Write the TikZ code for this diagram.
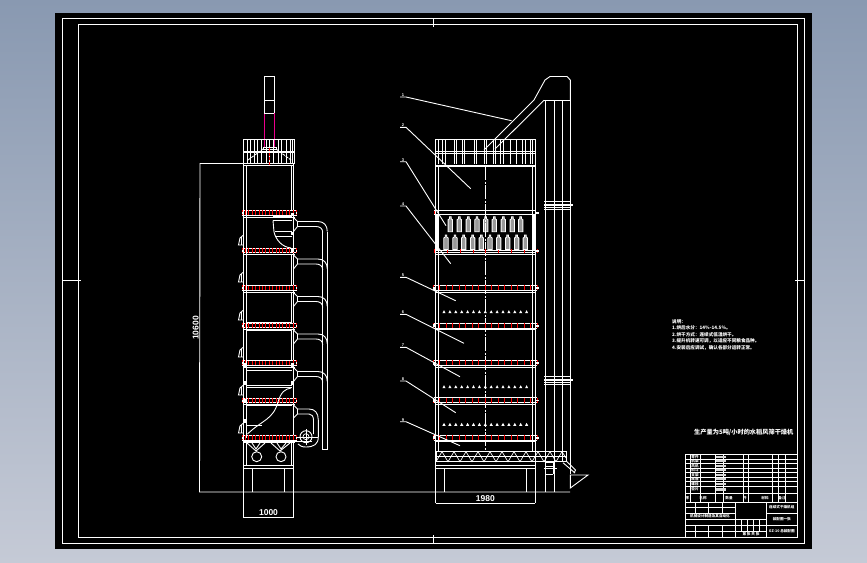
\documentclass[tikz,border=0pt]{standalone}
\usepackage{fontspec}
\setmainfont{Liberation Sans}
\newfontfamily\cjk{Noto Sans CJK SC}
\definecolor{skytop}{RGB}{137,153,177}
\definecolor{skybot}{RGB}{197,202,214}
\tikzset{
  ln/.style={draw=white,line width=0.9pt},
  thin ln/.style={draw=white,line width=0.7pt},
  redtick/.style={draw=red,line width=1pt},
  magline/.style={draw=magenta,line width=1.1pt},
  dim/.style={text=white,font=\fontsize{8.5}{9}\selectfont\bfseries,inner sep=0pt},
  tag/.style={text=white,font=\fontsize{4}{4}\selectfont\bfseries,inner sep=0pt},
  cn/.style={text=white,font=\cjk\fontsize{4.6}{5}\selectfont\bfseries,inner sep=0pt,anchor=west},
  tb/.style={text=white,font=\cjk\fontsize{3.6}{4}\selectfont\bfseries,inner sep=0pt},
  dropshape/.style={draw=white,line width=0.8pt}
}
\newcommand{\flange}[3]{%
  \draw[ln] (#1,#3-2.4) -- (#2,#3-2.4);
  \draw[ln] (#1,#3+2.4) -- (#2,#3+2.4);
  \draw[ln] (#1+2,#3+4) -- (#2-2,#3+4);
  \pgfmathsetmacro{\fstep}{(#2-#1)/16}
  \foreach \k in {0,...,16}{
    \draw[redtick] ({#1+\k*\fstep},#3-2.6) -- ({#1+\k*\fstep},#3+2.2);
  }
}
\newcommand{\duct}[1]{%
  \draw[ln] (293.5,#1-5) -- (297.5,#1-1) -- (297.5,#1+4) -- (293.5,#1+9);
  \draw[ln] (297.5,#1-1) -- (318,#1-1) .. controls (324,#1-1) and (327.3,#1+3) .. (327.3,#1+9);
  \draw[ln] (297.5,#1+4) -- (316,#1+4) .. controls (320,#1+4) and (322.7,#1+6) .. (322.7,#1+10);
}
\newcommand{\lugmark}[1]{%
  \draw[ln] (243.5,#1) -- (240,#1+3) -- (238.5,#1+10) -- (243.5,#1+10);
  \draw[ln] (241,#1+2) -- (241,#1+10);
}
\newcommand{\bottle}[3]{%
  \draw[dropshape,fill=white,fill opacity=.6] (#1-2.2,#3) -- (#1-2.2,#2+3) -- (#1-.8,#2+2) -- (#1-.8,#2) -- (#1+.8,#2) -- (#1+.8,#2+2) -- (#1+2.2,#2+3) -- (#1+2.2,#3) -- cycle;
}
\begin{document}
\begin{tikzpicture}[x=1pt,y=-1pt]
\useasboundingbox (0,0) rectangle (867,562);
\shade[top color=skytop,bottom color=skybot] (0,0) rectangle (867,562);
\fill[black] (55,13) rectangle (812,549);
\draw[ln] (62.5,18.5) rectangle (804.5,543.5);
\draw[ln] (78.5,24.5) rectangle (797,537);
% frame centre marks
\draw[ln] (62.5,280.5) -- (81,280.5);
\draw[ln] (795,280.5) -- (804.5,280.5);
\draw[ln] (433.3,18.5) -- (433.3,26.7);
\draw[ln] (433.3,535) -- (433.3,543.5);

%% ---------- left view ----------
\draw[ln] (264.5,76) rectangle (274.5,113);
\draw[ln] (264.5,100) -- (274.5,100);
\draw[magline] (264.7,114) -- (264.7,148);
\draw[magline] (274.5,113) -- (274.5,148);
\draw[ln] (243.5,139) rectangle (294,163.5);
\draw[ln] (243.5,151) -- (294,151);
\draw[ln] (243.5,152.6) -- (294,152.6);
\foreach \x in {247,250.5,254,257,261,266,269,273,278,281.5,286,290,292.5}{
  \draw[thin ln] (\x,139) -- (\x,163);
}
\draw[ln] (263,147.5) rectangle (276,149.5);
\draw[ln,dashed,dash pattern=on 3pt off 1pt] (248,160) -- (263,149);
\draw[ln,dashed,dash pattern=on 3pt off 1pt] (276,149) -- (291,160);
\draw[draw=red,line width=.8pt,dash pattern=on 3pt off 1.5pt] (269.3,148) -- (269.3,165);
% dimension 10600
\draw[ln] (243.5,163.5) -- (200,163.5) -- (199.5,492) -- (570,492);
\node[dim,rotate=90] (dimh) at (195.7,328) {10600};
% body
\draw[ln] (243.5,165.5) -- (293.5,165.5);
\draw[ln] (243.5,163.5) -- (243.5,517.5);
\draw[ln] (293.5,163.5) -- (293.5,517.5);
\draw[ln] (246.7,165.5) -- (246.7,438);
\draw[ln] (291.7,165.5) -- (291.7,210);
\draw[ln] (291.7,254) -- (291.7,285);
\draw[ln] (291.7,292) -- (291.7,322);
\draw[ln] (291.7,330) -- (291.7,360);
\foreach \y in {213,250.5,288,325.5,363,400.5,438}{
  \flange{242}{296.5}{\y}
  \fill[white] (241.5,\y-1) rectangle (243,\y+1);
  \fill[white] (295.5,\y-1) rectangle (297,\y+1);
}
\draw[ln] (246.7,254.5) -- (291.7,254.5);
\draw[ln] (246.7,285) -- (291.7,285);
\draw[ln] (246.7,292) -- (291.7,292);
\draw[ln] (246.7,322) -- (291.7,322);
\draw[ln] (246.7,330) -- (291.7,330);
\draw[ln] (246.7,360) -- (291.7,360);
\draw[ln] (246.7,370) -- (291.7,370);
\draw[ln] (246.7,385) -- (291.7,385);
\draw[ln] (246.7,387) -- (291.7,387);
\draw[ln] (246.7,405) -- (291.7,405);
\draw[ln] (246.7,425) -- (262,425);
\foreach \y in {365,382.7,401,420.7}{
  \fill[white] (244,\y-1.8) rectangle (247,\y+1.8);
}
\foreach \y in {214.5,233.5,250,365,382.7}{
  \fill[white] (290.5,\y-1.8) rectangle (293.5,\y+1.8);
}
% upper curved passage
\draw[ln] (272.5,216) -- (292,216);
\draw[ln] (272.5,220.5) -- (292,220.5);
\draw[ln] (273,220.5) -- (274,232) .. controls (276,240) and (282,247) .. (291,248);
\draw[ln] (274.5,231) -- (292,231);
\draw[ln] (275,236) -- (292,236);
% lower curved passage
\draw[ln] (247.5,434) .. controls (262,420) and (273,420) .. (278,402) .. controls (281,392) and (285,389) .. (291,388);
% ducts
\duct{222.5}
\duct{260}
\duct{297.5}
\duct{335}
\duct{372.5}
\draw[ln] (322.7,232) -- (322.7,449.5) -- (327.3,449.5) -- (327.3,232);
% last duct and fan
\draw[ln] (293.5,405) -- (297.5,409) -- (297.5,414) -- (293.5,418);
\draw[ln] (297.5,409) -- (309,409) .. controls (315,409) and (318.3,413) .. (318.3,420) -- (318.3,437) .. controls (318.3,444) and (314,447) .. (306,447) .. controls (302,447) and (300,446) .. (298,444);
\draw[ln] (297.5,414) -- (309,414) .. controls (311.5,414) and (313.5,416) .. (313.5,420) -- (313.5,434);
\node[draw=white,line width=.9pt,circle,minimum size=12pt,inner sep=0pt] (fan) at (306,436.7) {};
\node[draw=white,line width=.7pt,circle,minimum size=6pt,inner sep=0pt] (fanhub) at (306,436.7) {};
\draw[ln] (306,429) -- (306,445);
\draw[ln] (296,437) -- (318,437);
\draw[ln] (244,441.5) -- (312,441.5);
% lugs
\foreach \y in {235,272,310,347,385,423}{ \lugmark{\y} }
% hoppers
\node[draw=white,line width=.9pt,circle,minimum size=10pt,inner sep=0pt] (hopa) at (256.7,456.7) {};
\node[draw=white,line width=.9pt,circle,minimum size=10pt,inner sep=0pt] (hopb) at (281,456.7) {};
\draw[ln] (247,443) -- (256,451) -- (265,443);
\draw[ln] (252,443) -- (256,449) -- (260,443);
\draw[ln] (271,443) -- (280,451) -- (290,443);
\draw[ln] (277,443) -- (281,449) -- (286,443);
\draw[ln] (246.7,442) -- (246.7,465.7);
\draw[ln] (291.7,442) -- (291.7,465.7);
\draw[ln] (243.5,465.7) -- (293.5,465.7);
\draw[ln] (243.5,468.4) -- (293.5,468.4);
\draw[ln] (252.3,468.4) -- (252.3,492);
\draw[ln] (284.3,468.4) -- (284.3,492);
\draw[ln] (243.5,517.5) -- (293.5,517.5);
\node[dim] (dimw) at (268.5,513) {1000};

%% ---------- right view ----------
\draw[ln] (435.5,139) rectangle (535,165);
\draw[ln] (435.5,151) -- (535,151);
\draw[ln] (435.5,153) -- (535,153);
\foreach \z in {145,157,165,193,200,218,222,252,258,282,290,310,315,332,340,360,378,398,405,420,428}{
  \pgfmathsetmacro{\xx}{390+\z/3}
  \draw[thin ln] (\xx,139) -- (\xx,164);
}
\draw[ln] (435.5,165) -- (435.5,503);
\draw[ln] (535,165) -- (535,503);
\draw[ln] (438.5,165) -- (438.5,451);
\draw[ln] (532.3,165) -- (532.3,451);
\draw[ln] (435.5,166.5) -- (535,166.5);
\draw[ln,dash pattern=on 14pt off 1.5pt on 2pt off 1.5pt] (485.3,166) -- (485.3,452);
\foreach \y in {288,325.7,363,400.3,437.7}{
  \flange{433.5}{537}{\y}
  \fill[white] (433,\y-1.5) rectangle (435,\y+1.5);
  \fill[white] (536,\y-.8) rectangle (538.5,\y+.8);
}
% bottle section
\draw[ln] (434,210.5) -- (536,210.5);
\draw[ln] (434,214.5) -- (536,214.5);
\draw[ln] (434,250) -- (536,250);
\draw[ln] (434,252.5) -- (536,252.5);
\draw[ln] (436,254.5) -- (535,254.5);
\foreach \x in {434,447,460,473,485,498,511,524,537}{
  \draw[redtick] (\x,249) -- (\x,252.5);
}
\fill[red] (433.5,210.5) rectangle (435,214);
\fill[white] (435.5,214) rectangle (439,250);
\fill[white] (532.5,214) rectangle (535.5,250);
\fill[white] (536,212) rectangle (538.5,214);
\fill[white] (536,250) rectangle (538.5,252);
\foreach \z in {181,208,235,261,287,313,340,367,392}{
  \pgfmathsetmacro{\xx}{390+\z/3}
  \bottle{\xx}{216.7}{231.7}
}
\foreach \z in {168,195,221,248,274,300,326,353,380,406}{
  \pgfmathsetmacro{\xx}{390+\z/3}
  \bottle{\xx}{235}{249.5}
}
% small triangles
\foreach \y in {311.7,386.7,424.3}{
  \foreach \i in {0,...,14}{
    \pgfmathsetmacro{\xx}{444+\i*5.9}
    \fill[white] (\xx-1.6,\y+1.5) -- (\xx,\y-1.5) -- (\xx+1.6,\y+1.5) -- cycle;
  }
}
% conveyor
\draw[ln] (436,451.7) -- (566.7,451.7) -- (566.7,461.7) -- (436,461.7) -- cycle;
\draw[ln] (436,456.7) -- (566.7,456.7);
\draw[thin ln] (436,461.7) -- (442,451.7) -- (448,461.7) -- (454,451.7) -- (460,461.7) -- (466,451.7) -- (472,461.7) -- (478,451.7) -- (484,461.7) -- (490,451.7) -- (496,461.7) -- (502,451.7) -- (508,461.7) -- (514,451.7) -- (520,461.7) -- (526,451.7) -- (532,461.7) -- (538,451.7) -- (544,461.7) -- (550,451.7) -- (556,461.7) -- (562,451.7) -- (566,458);
\draw[ln] (436,465.7) -- (535,465.7);
\draw[ln] (436,468.4) -- (535,468.4);
\draw[ln] (444.3,468.4) -- (444.3,492);
\draw[ln] (526.7,468.4) -- (526.7,492);
\draw[ln] (435.5,503) -- (535,503);
\node[dim] (dimr) at (485.3,499) {1980};
% elevator
\draw[ln] (545.3,100) -- (545.3,492);
\draw[ln] (554.3,100) -- (554.3,492);
\draw[ln] (562.7,100) -- (562.7,462);
\draw[ln] (570.3,100) -- (570.3,474);
\draw[ln] (544,100.3) -- (570.3,100.3);
\draw[ln] (570.3,100) -- (570.3,80) -- (567,76.5) -- (550,76.5) -- (545,80) -- (534,100) -- (484,150);
\draw[ln] (544,100.3) -- (495,149);
\foreach \y in {205,380}{
  \draw[ln] (544,\y-3.5) -- (571,\y-3.5);
  \draw[ln] (544,\y+2.5) -- (571,\y+2.5);
  \draw[ln] (544,\y+4) -- (571,\y+4);
  \draw[line width=2pt,draw=white] (544,\y) -- (572.5,\y);
}
% discharge
\draw[ln] (545,462) -- (553,462);
\draw[ln] (545,466) -- (553,466);
\draw[ln] (544,468) -- (557,468);
\draw[ln] (545,474) -- (553,474);
\draw[ln] (553,462) -- (553,474);
\draw[ln] (563,462.7) -- (575,473);
\draw[ln] (566,460.7) -- (575.5,470) -- (574,473);
\draw[ln] (570.3,475) -- (588,475) -- (570.3,488) -- cycle;
% leaders
\foreach \nm/\lx/\ly/\ex/\ey/\t in {
  la/400/97/511.5/120.7/1,
  lb/400/127.3/470.7/188.7/2,
  lc/400/161.7/446/225.7/3,
  ld/400/206/450.7/263.7/4,
  le/400/277.3/455.7/300.7/5,
  lf/400/314.3/464/343.3/6,
  lg/400/347.3/460/376.7/7,
  lh/400/381/455.7/412.7/8,
  li/400/421.7/460/445.7/9}{
  \node[tag] (\nm) at (\lx+3,\ly-2) {\t};
  \coordinate (\nm e) at (\ex,\ey);
  \draw[ln] (\lx,\ly) -- (\lx+6,\ly) -- (\nm e);
}

%% ---------- notes ----------
\node[cn] (na) at (672,322) {说明：};
\node[cn] (nb) at (672,328) {1.烘后水分：14\%-14.5\%。};
\node[cn] (nc) at (672,334.5) {2.烘干方式：连续式低温烘干。};
\node[cn] (nd) at (672,340.5) {3.提升机转速可调，以适应不同粮食品种。};
\node[cn] (ne) at (672,347.5) {4.安装后应调试，确认各部分运转正常。};
\node[text=white,font=\cjk\fontsize{6.2}{7}\selectfont\bfseries,inner sep=0pt,anchor=west] (title) at (694,432) {生产量为5吨/小时的水稻风筛干燥机};

%% ---------- title block ----------
\draw[ln] (685.5,454.5) rectangle (797,537);
\foreach \y in {459,463.5,468,472.5,477,481.5,486,493.3,502.3}{
  \draw[thin ln] (685.5,\y) -- (797,\y);
}
\foreach \x in {690,700,715,723,743,748,772,778,785}{
  \draw[thin ln] (\x,454.5) -- (\x,502.3);
}
\foreach \y/\s in {456.8/零件,461.2/机架,465.8/风机,470.2/料斗,474.8/支架,479.2/底座,483.8/螺栓,489.5/垫片}{
  \node[tb] at (695,\y) {\s};
  \fill[white!85!black] (716,\y-1.2) rectangle (726,\y+1.2);
}
\foreach \x/\s in {687.5/序,703/名称,729/数量,745/件,765/材料,782/备注}{
  \node[tb] at (\x,498) {\s};
}
\draw[ln] (735,502.3) -- (735,537);
\draw[ln] (766.7,502.3) -- (766.7,537);
\draw[ln] (766.7,513) -- (797,513);
\draw[ln] (766.7,525) -- (797,525);
\foreach \y in {507,513.5,519,525,531}{
  \draw[thin ln] (685.5,\y) -- (735,\y);
}
\foreach \x in {695,708,722}{
  \draw[thin ln] (\x,502.3) -- (\x,513.5);
  \draw[thin ln] (\x,525) -- (\x,537);
}
\node[tb] (tbz) at (710,516.3) {机械设计制造及其自动化};
\draw[ln] (735,519.5) -- (766.7,519.5);
\draw[ln] (735,525.7) -- (766.7,525.7);
\draw[ln] (735,531.7) -- (766.7,531.7);
\foreach \x in {741,747,753,759}{
  \draw[thin ln] (\x,525.7) -- (\x,531.7);
  \draw[thin ln] (\x,519.5) -- (\x,525.7);
}
\node[tb] (tbs) at (751,534.5) {第 张 共 张};
\node[tb] (tbu) at (781.8,507.5) {连续式干燥机组};
\node[tb] (tbm) at (781.8,519) {装配图一张};
\node[tb] (tbl) at (781.8,531) {GZ-10 总装配图};
\end{tikzpicture}
\end{document}
